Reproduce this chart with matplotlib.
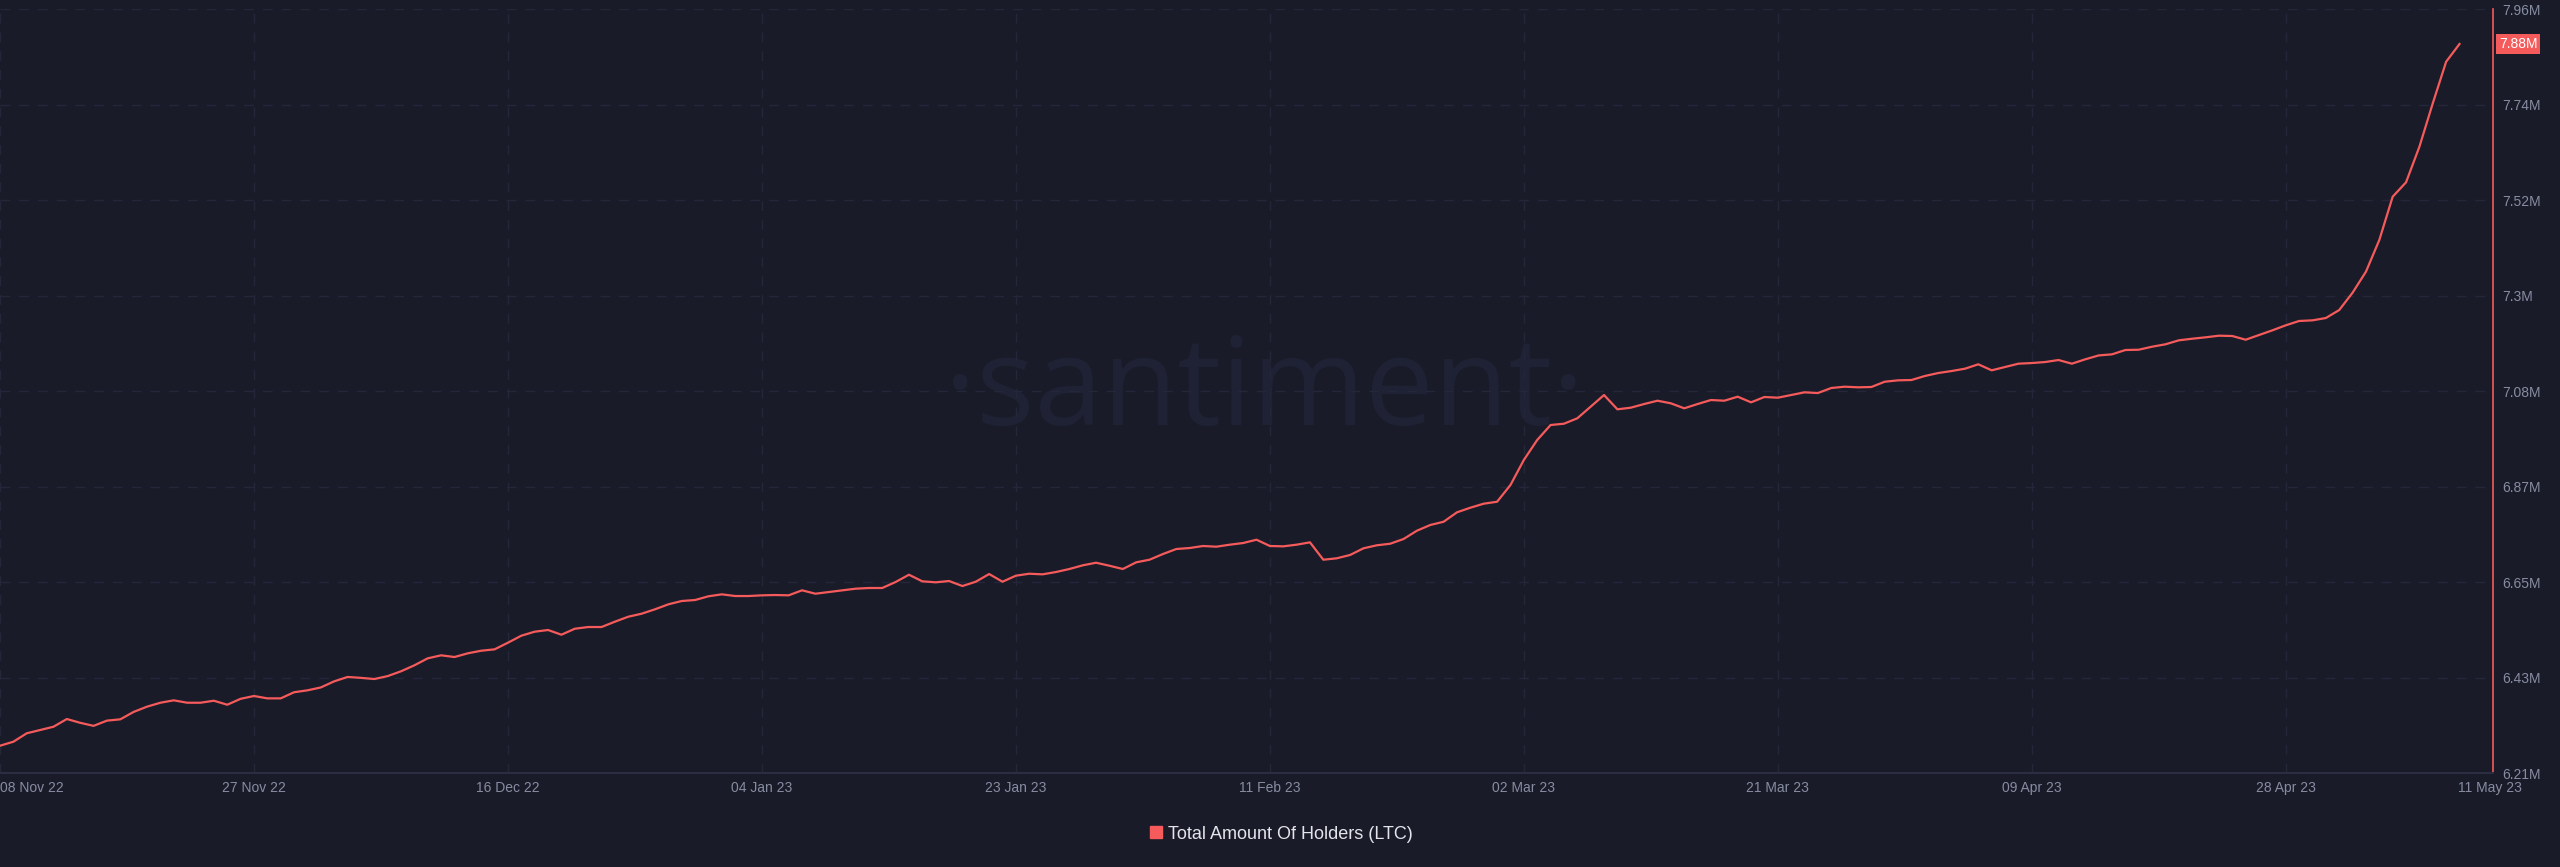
import matplotlib
matplotlib.use('Agg')
import matplotlib.pyplot as plt
import matplotlib.dates as mdates
from matplotlib.lines import Line2D
import numpy as np
import pandas as pd

#colors
bg_color = '#191b29'
line_color = '#f65b5b'
grid_color = '#24273a'
label_color = '#878ca1'
mark_color = '#1f2234'

#---------------- data (millions of holders, one value per day) ----------------
start_date = "2022-11-08"
holders_m = [
    6.2725, 6.2817, 6.3010, 6.3085, 6.3160, 6.3337, 6.3250, 6.3180, 6.3300, 6.3330,
    6.3500, 6.3620, 6.3710, 6.3765, 6.3710, 6.3710, 6.3756, 6.3664, 6.3800, 6.3864,
    6.3810, 6.3810, 6.3950, 6.3994, 6.4060, 6.4200, 6.4300, 6.4280, 6.4253, 6.4320,
    6.4430, 6.4567, 6.4727, 6.4796, 6.4757, 6.4842, 6.4901, 6.4933,
    6.5085, 6.5245, 6.5337, 6.5376, 6.5268, 6.5405, 6.5444, 6.5444, 6.5566, 6.5680,
    6.5749, 6.5850, 6.5964, 6.6040, 6.6063, 6.6148, 6.6193, 6.6154, 6.6154, 6.6170,
    6.6177, 6.6170, 6.6285, 6.6207, 6.6246, 6.6285, 6.6322, 6.6338, 6.6338, 6.6475,
    6.6642, 6.6491, 6.6468, 6.6498, 6.6383, 6.6482, 6.6658,
    6.6482, 6.6620, 6.6665, 6.6651, 6.6704, 6.6773, 6.6857, 6.6917, 6.6848, 6.6773,
    6.6926, 6.6986, 6.7116, 6.7231, 6.7254, 6.7300, 6.7284, 6.7330, 6.7368, 6.7444,
    6.7300, 6.7292, 6.7330, 6.7384, 6.6986, 6.7018, 6.7094, 6.7247, 6.7316, 6.7352,
    6.7460, 6.7650, 6.7781, 6.7856, 6.8072, 6.8177, 6.8269, 6.8314,
    6.8697, 6.9270, 6.9728, 7.0071, 7.0101, 7.0225, 7.0490, 7.0758, 7.0431, 7.0468,
    7.0552, 7.0628, 7.0568, 7.0454, 7.0552, 7.0644, 7.0628, 7.0720, 7.0591, 7.0713,
    7.0697, 7.0758, 7.0820, 7.0804, 7.0919, 7.0949, 7.0935, 7.0942, 7.1063, 7.1095,
    7.1102, 7.1194, 7.1262, 7.1308, 7.1361, 7.1462, 7.1324, 7.1400, 7.1476, 7.1491,
    7.1514, 7.1560, 7.1476, 7.1576,
    7.1665, 7.1690, 7.1789, 7.1796, 7.1865, 7.1920, 7.2011, 7.2048, 7.2080, 7.2117,
    7.2110, 7.2025, 7.2133, 7.2240, 7.2355, 7.2454, 7.2469, 7.2522, 7.2705, 7.3102,
    7.3583, 7.4309, 7.5301, 7.5631, 7.6446, 7.7440, 7.8393, 7.8799,
]
tick_dates = ["2022-11-08", "2022-11-27", "2022-12-16", "2023-01-04", "2023-01-23",
              "2023-02-11", "2023-03-02", "2023-03-21", "2023-04-09", "2023-04-28"]
tick_labels = ["08 Nov 22", "27 Nov 22", "16 Dec 22", "04 Jan 23", "23 Jan 23",
               "11 Feb 23", "02 Mar 23", "21 Mar 23", "09 Apr 23", "28 Apr 23"]
last_date_label = "11 May 23"
y_min, y_max = 6.21, 7.96
y_labels = ["6.21M", "6.43M", "6.65M", "6.87M", "7.08M", "7.3M", "7.52M", "7.74M", "7.96M"]
last_value_label = "7.88M"
legend_label = "Total Amount Of Holders (LTC)"

dates = pd.date_range(start_date, periods=len(holders_m), freq='D')

plt.rcParams['font.family'] = ['Liberation Sans', 'DejaVu Sans']

#---------------- figure ----------------
fig = plt.figure(figsize=(25.6, 8.67), dpi=100, facecolor=bg_color)
ax = fig.add_axes([0.0, 0.1084, 0.9738, 0.8812])
ax.set_facecolor(bg_color)

#watermark
ax.text(0.507, 0.455, "\u00b7santiment\u00b7", transform=ax.transAxes,
        ha='center', va='baseline', fontsize=88, color=mark_color,
        family=['Open Sans', 'DejaVu Sans'], zorder=0)

#line
ax.plot(dates, holders_m, color=line_color, lw=1.6, zorder=3)

#axes limits
ax.set_xlim(dates[0], dates[0] + pd.Timedelta(days=186.5))
ax.set_ylim(y_min, y_max)

#x ticks
ax.set_xticks(pd.to_datetime(tick_dates))
ax.set_xticklabels(tick_labels)
ax.get_xticklabels()[0].set_ha('left')
ax.annotate(last_date_label, xy=(mdates.date2num(dates[-1]), 0),
            xycoords=ax.get_xaxis_transform(),
            xytext=(-1, -6), textcoords='offset points',
            ha='left', va='top', fontsize=10, color=label_color)

#y ticks on the right
ax.yaxis.tick_right()
ax.set_yticks(np.linspace(y_min, y_max, len(y_labels)))
ax.set_yticklabels(y_labels)

ax.tick_params(axis='both', length=0, colors=label_color, labelsize=10)
ax.tick_params(axis='x', pad=6)
ax.tick_params(axis='y', pad=7)

#grid
ax.grid(True, color=grid_color, linestyle=(0, (7, 6.5)), lw=1)
ax.set_axisbelow(True)

#spines
ax.spines['top'].set_visible(False)
ax.spines['left'].set_visible(False)
ax.spines['right'].set_color(line_color)
ax.spines['right'].set_linewidth(1.2)
ax.spines['bottom'].set_color('#2b2e41')
ax.spines['bottom'].set_linewidth(1.5)

#last value badge
ax.text(1.0025, holders_m[-1], last_value_label, transform=ax.get_yaxis_transform(),
        ha='left', va='center', fontsize=10, color='white',
        bbox=dict(boxstyle='square,pad=0.2', fc=line_color, ec='none'))

#legend
handle = Line2D([], [], marker='s', color=line_color, linestyle='none', markersize=9)
leg = fig.legend([handle], [legend_label], loc='center', bbox_to_anchor=(0.5, 0.038),
                 frameon=False, fontsize=13, handletextpad=0.2, handlelength=1.0)
for t in leg.get_texts():
    t.set_color('#e4e5ea')

fig.savefig('out.png', dpi=100, facecolor=bg_color)
